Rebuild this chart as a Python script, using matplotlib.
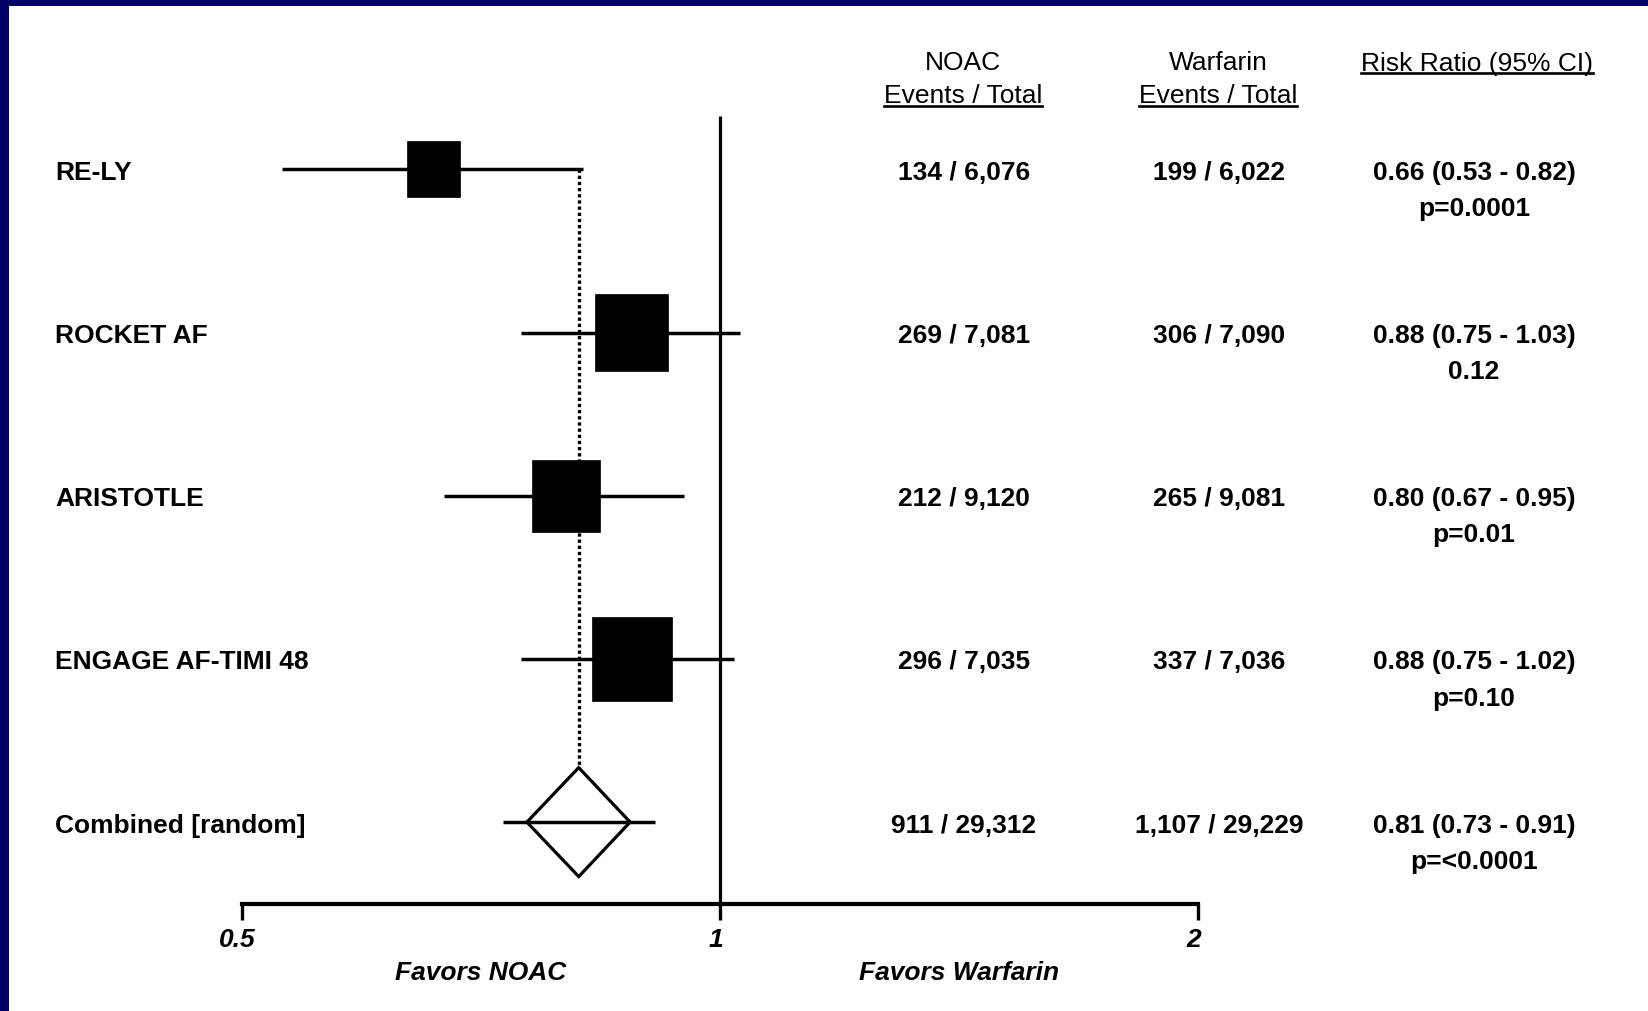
import matplotlib
matplotlib.use("Agg")
import matplotlib.pyplot as plt
import numpy as np
from matplotlib.patches import Rectangle, Polygon
from matplotlib.lines import Line2D
from matplotlib import transforms

plt.rcParams['font.family'] = ['Liberation Sans', 'DejaVu Sans']

# ---------------- data ----------------
studies = ["RE-LY", "ROCKET AF", "ARISTOTLE", "ENGAGE AF-TIMI 48"]
rr = [0.66, 0.88, 0.80, 0.88]
ci_lo = [0.53, 0.75, 0.67, 0.75]
ci_hi = [0.82, 1.03, 0.95, 1.02]
weights = [14.7, 27.9, 24.3, 33.1]
noac_events = ["134 / 6,076", "269 / 7,081", "212 / 9,120", "296 / 7,035"]
warf_events = ["199 / 6,022", "306 / 7,090", "265 / 9,081", "337 / 7,036"]
rr_text = ["0.66 (0.53 - 0.82)", "0.88 (0.75 - 1.03)", "0.80 (0.67 - 0.95)", "0.88 (0.75 - 1.02)"]
p_text = ["p=0.0001", "0.12", "p=0.01", "p=0.10"]

combined_label = "Combined [random]"
combined_rr = 0.815
combined_ci_lo = 0.73
combined_ci_hi = 0.91
combined_diamond_lo = 0.756
combined_diamond_hi = 0.878
combined_noac = "911 / 29,312"
combined_warf = "1,107 / 29,229"
combined_rr_text = "0.81 (0.73 - 0.91)"
combined_p_text = "p=<0.0001"

tick_values = [0.5, 1, 2]
tick_labels = ["0.5", "1", "2"]
favors_left = "Favors NOAC"
favors_right = "Favors Warfarin"
header_noac = ["NOAC", "Events / Total"]
header_warf = ["Warfarin", "Events / Total"]
header_rr = "Risk Ratio (95% CI)"

# ---------------- layout ----------------
W, H = 1648, 1012
fig = plt.figure(figsize=(W / 100, H / 100), dpi=100)
fig.patch.set_facecolor("white")

ax_left_px, ax_right_px = 241.7, 1198.0
row0_px, row_step_px = 170.3, 163.2
ylim_bottom, ylim_top = 4.5, -1.0
axis_px = row0_px + ylim_bottom * row_step_px
top_px = row0_px + ylim_top * row_step_px
ax = fig.add_axes([ax_left_px / W, 1 - axis_px / H,
                   (ax_right_px - ax_left_px) / W, (axis_px - top_px) / H])
ax.set_facecolor("none")
ax.set_xscale("log", base=2)
ax.set_xlim(0.5, 2)
ax.set_ylim(ylim_bottom, ylim_top)
for s in ["left", "right", "top"]:
    ax.spines[s].set_visible(False)
ax.spines["bottom"].set_linewidth(3.0)
ax.spines["bottom"].set_color("black")
ax.yaxis.set_visible(False)
ax.xaxis.set_minor_locator(matplotlib.ticker.NullLocator())
ax.set_xticks(tick_values)
ax.set_xticklabels(tick_labels, fontsize=19, fontweight="bold", fontstyle="italic")
ax.tick_params(axis="x", direction="out", length=11.5, width=2.4, pad=5, color="black")
shift = transforms.ScaledTranslation(-4 / 100, 0, fig.dpi_scale_trans)
for lbl in ax.get_xticklabels():
    lbl.set_transform(lbl.get_transform() + shift)

px_per_doubling = (ax_right_px - ax_left_px) / 2.0

# reference line at 1
ax.plot([1, 1], [-0.328, ylim_bottom], color="black", lw=2.3, zorder=2, solid_capstyle="butt")

# dotted line at pooled estimate
diamond_half_h = 109 / 2 / row_step_px
ax.plot([combined_rr, combined_rr], [0, 4 - diamond_half_h], color="black", lw=2.4,
        linestyle=(0, (1, 0.85)), zorder=1)

# studies
for i in range(len(studies)):
    ax.plot([ci_lo[i], ci_hi[i]], [i, i], color="black", lw=2.5, zorder=3, solid_capstyle="butt")
    side = 13.9 * np.sqrt(weights[i])
    half_w = side / 2 / px_per_doubling
    half_h = side * 1.05 / 2 / row_step_px
    x0 = rr[i] * 2 ** (-half_w)
    x1 = rr[i] * 2 ** (half_w)
    ax.add_patch(Rectangle((x0, i - half_h), x1 - x0, 2 * half_h,
                           facecolor="black", edgecolor="black", lw=0.5, zorder=4))

# combined diamond
yc = len(studies)
dia = Polygon([(combined_diamond_lo, yc), (combined_rr, yc - diamond_half_h),
               (combined_diamond_hi, yc), (combined_rr, yc + diamond_half_h)],
              closed=True, facecolor="white", edgecolor="black", lw=2.3, zorder=4,
              joinstyle="miter")
ax.add_patch(dia)
ax.plot([combined_ci_lo, combined_ci_hi], [yc, yc], color="black", lw=2.5, zorder=5,
        solid_capstyle="butt")

# ---------------- text ----------------
blend = transforms.blended_transform_factory(fig.transFigure, ax.transData)
row_text = transforms.offset_copy(blend, fig=fig, x=0, y=-9.5, units="dots")
p_row_text = transforms.offset_copy(blend, fig=fig, x=0, y=-9.5 - 36.3, units="dots")

lab_x = 55 / W
noac_x = 964 / W
warf_x = 1219 / W
rr_x = 1474 / W
fs = 19

all_labels = studies + [combined_label]
all_noac = noac_events + [combined_noac]
all_warf = warf_events + [combined_warf]
all_rr = rr_text + [combined_rr_text]
all_p = p_text + [combined_p_text]
for i in range(len(all_labels)):
    ax.text(lab_x, i, all_labels[i], transform=row_text, ha="left", va="baseline",
            fontsize=fs, fontweight="bold", color="black")
    ax.text(noac_x, i, all_noac[i], transform=row_text, ha="center", va="baseline",
            fontsize=fs, fontweight="bold", color="black")
    ax.text(warf_x, i, all_warf[i], transform=row_text, ha="center", va="baseline",
            fontsize=fs, fontweight="bold", color="black")
    ax.text(rr_x, i, all_rr[i], transform=row_text, ha="center", va="baseline",
            fontsize=fs, fontweight="bold", color="black")
    ax.text(rr_x, i, all_p[i], transform=p_row_text, ha="center", va="baseline",
            fontsize=fs, fontweight="bold", color="black")

# headers (figure coords, baseline positions in px from top)
underlined = []
def header(xpx, base_px, s, ul=False):
    t = fig.text(xpx / W, 1 - base_px / H, s, ha="center", va="baseline",
                 fontsize=fs, color="black")
    if ul:
        underlined.append((t, H - base_px))
    return t

header(963, 69.5, header_noac[0])
header(963, 103.3, header_noac[1], ul=True)
header(1218, 69.5, header_warf[0])
header(1218, 103.3, header_warf[1], ul=True)
header(1477, 70.5, header_rr, ul=True)

# favors labels
fav_tr = transforms.blended_transform_factory(ax.transData, fig.transFigure)
ax.text(np.sqrt(0.5), 1 - 980 / H, favors_left, transform=fav_tr, ha="center", va="baseline",
        fontsize=fs, fontweight="bold", fontstyle="italic", color="black")
ax.text(np.sqrt(2.0), 1 - 980 / H, favors_right, transform=fav_tr, ha="center", va="baseline",
        fontsize=fs, fontweight="bold", fontstyle="italic", color="black")

# underlines
fig.canvas.draw()
renderer = fig.canvas.get_renderer()
for t, base_disp in underlined:
    bb = t.get_window_extent(renderer)
    yl = base_disp - 3.6
    fig.add_artist(Line2D([bb.x0 / W, bb.x1 / W], [yl / H, yl / H],
                          transform=fig.transFigure, color="black", lw=1.9))

# navy border (left and top)
navy = "#000066"
fig.add_artist(Rectangle((0, 0), 9 / W, 1, transform=fig.transFigure,
                         facecolor=navy, edgecolor="none", zorder=10))
fig.add_artist(Rectangle((0, 1 - 7 / H), 1, 7 / H, transform=fig.transFigure,
                         facecolor=navy, edgecolor="none", zorder=10))

fig.savefig("out.png", dpi=100, facecolor="white")
